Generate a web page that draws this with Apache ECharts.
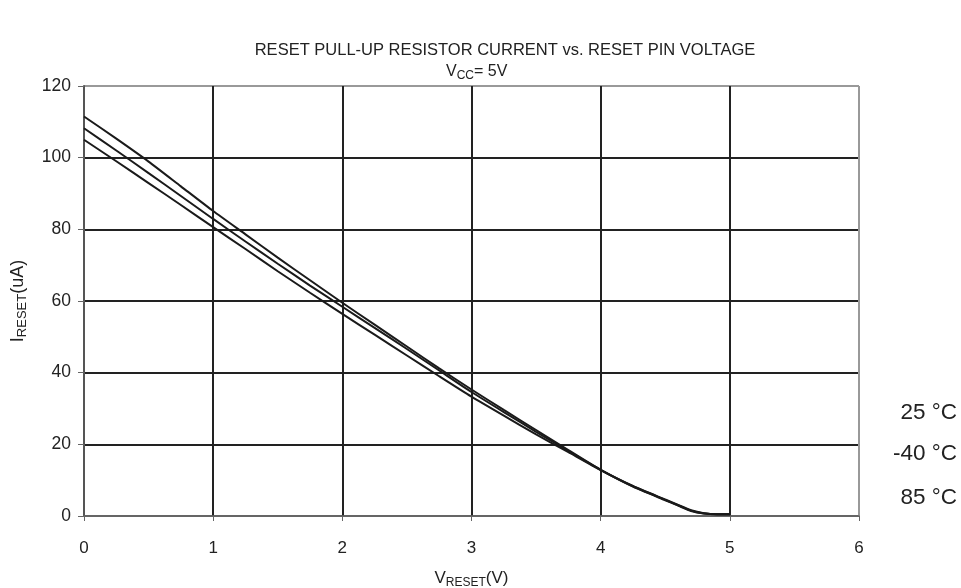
<!DOCTYPE html>
<html>
<head>
<meta charset="utf-8">
<script src="https://cdn.jsdelivr.net/npm/echarts@6/dist/echarts.min.js"></script>
<style>html,body{margin:0;padding:0;background:#fff}#c{width:961px;height:588px}</style>
</head>
<body>
<div id="c"></div>
<script>
const voltage = [0, 0.25, 0.5, 0.75, 1, 1.25, 1.5, 1.75, 2, 2.25, 2.5, 2.75, 3, 3.25, 3.5, 3.75, 4, 4.25, 4.5, 4.6, 4.7, 4.8, 4.9, 5];
const curveTop    = [111.5, 105.3, 98.9, 92.0, 85.1, 78.6, 72.1, 65.8, 59.5, 53.4, 47.3, 41.2, 35.3, 29.6, 24.0, 18.4, 12.9, 8.4, 4.6, 3.1, 1.6, 0.8, 0.5, 0.5];
const curveMid    = [108.2, 102.0, 95.7, 89.3, 82.9, 76.6, 70.4, 64.3, 58.4, 52.5, 46.6, 40.6, 34.6, 29.0, 23.5, 18.1, 12.9, 8.3, 4.5, 3.0, 1.5, 0.7, 0.5, 0.5];
const curveBot    = [105.0, 99.0, 92.9, 86.8, 80.6, 74.5, 68.3, 62.3, 56.4, 50.6, 44.8, 39.0, 33.3, 28.0, 22.8, 17.8, 12.8, 8.2, 4.4, 2.9, 1.4, 0.7, 0.5, 0.5];
const xTicks = [0, 1, 2, 3, 4, 5, 6];
const yTicks = [0, 20, 40, 60, 80, 100, 120];
const tempLabels = ['25 \u00b0C', '-40 \u00b0C', '85 \u00b0C'];

const FONT = 'Liberation Sans, Arial, sans-serif';
const chart = echarts.init(document.getElementById('c'), null, {renderer: 'canvas'});
function mk(vals) { return voltage.map((v, i) => [v, vals[i]]); }
const lineStyle = {color: '#1a1a1a', width: 2};
const series = [curveTop, curveMid, curveBot].map((d) => ({
  type: 'line', data: mk(d), showSymbol: false, smooth: 0.2,
  lineStyle: lineStyle, silent: true
}));

chart.setOption({
  animation: false,
  backgroundColor: '#fff',
  textStyle: {fontFamily: FONT},
  title: [{
    text: 'RESET PULL-UP RESISTOR CURRENT vs. RESET PIN VOLTAGE',
    left: 500, top: 37, textAlign: 'center',
    textStyle: {fontFamily: FONT, fontSize: 16.5, fontWeight: 'normal', color: '#222'}
  }, {
    text: 'V{s|CC}= 5V',
    left: 441, top: 57, textAlign: 'left',
    textStyle: {fontFamily: FONT, fontSize: 16, fontWeight: 'normal', color: '#222',
      rich: {s: {fontFamily: FONT, fontSize: 12, color: '#222', padding: [8, 0, 0, 0]}}}
  }],
  grid: {left: 84, right: 102, top: 86, bottom: 72, outerBoundsMode: 'none', containLabel: false},
  xAxis: {
    type: 'value', min: 0, max: 6, interval: 1,
    name: 'V{s|RESET}(V)', nameLocation: 'middle', nameGap: 52,
    nameTextStyle: {fontFamily: FONT, fontSize: 17, color: '#222',
      rich: {s: {fontFamily: FONT, fontSize: 12, color: '#222', padding: [9, 0, 0, 0]}}},
    axisLine: {show: true, onZero: false, lineStyle: {color: '#666', width: 1.5}},
    axisTick: {show: true, length: 5, lineStyle: {color: '#666'}},
    axisLabel: {fontFamily: FONT, fontSize: 17, color: '#222', margin: 24,
      formatter: (v) => xTicks.includes(v) ? String(v) : ''},
    splitLine: {show: true, lineStyle: {color: ['#666', '#222', '#222', '#222', '#222', '#222', '#999'], width: 2}}
  },
  yAxis: {
    type: 'value', min: 0, max: 120, interval: 20,
    name: 'I{s|RESET}(uA)', nameLocation: 'middle', nameGap: 55, nameRotate: 90,
    nameTextStyle: {fontFamily: FONT, fontSize: 18, color: '#222',
      rich: {s: {fontFamily: FONT, fontSize: 13, color: '#222', padding: [9, 0, 0, 0]}}},
    axisLine: {show: true, lineStyle: {color: '#555', width: 2}},
    axisTick: {show: true, length: 6, lineStyle: {color: '#666'}},
    axisLabel: {fontFamily: FONT, fontSize: 17.5, color: '#222', margin: 13,
      formatter: (v) => yTicks.includes(v) ? String(v) : ''},
    splitLine: {show: true, lineStyle: {color: ['#666', '#222', '#222', '#222', '#222', '#222', '#999'], width: 2}}
  },
  graphic: tempLabels.map((t, i) => ({
    type: 'text', right: 4, top: [401, 442, 486][i],
    style: {text: t, font: '22.5px ' + FONT, fill: '#222', textAlign: 'right'}
  })),
  series: series
});
</script>
</body>
</html>
